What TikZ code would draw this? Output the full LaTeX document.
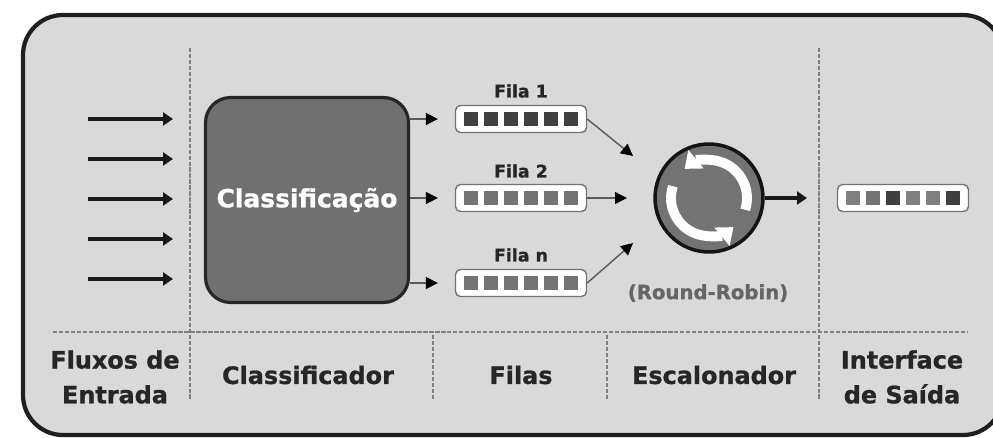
\documentclass[tikz,border=0pt]{standalone}
\usepackage{fontspec}
\setmainfont[BoldFeatures={FakeBold=1}]{DejaVu Sans}
\usetikzlibrary{arrows.meta}
\tikzset{x=0.02cm,y=0.02cm,
         painel/.style={draw=black!88,line width=2.4pt,fill=black!15,rounded corners=0.8cm},
         divisa/.style={draw=black!50,line width=0.8pt,dash pattern=on 2.4pt off 1pt},
         classe/.style={draw=black!85,line width=1.8pt,fill=black!56,rounded corners=0.5cm,
                        minimum width=4.06cm,minimum height=4.1cm,inner sep=0pt,text=white,
                        font=\bfseries\fontsize{14.2}{17}\selectfont},
         fila/.style={draw=black!55,line width=0.8pt,fill=white,rounded corners=0.1cm,
                      minimum width=2.62cm,minimum height=0.54cm,inner sep=0pt},
         celula/.style={minimum size=0.28cm,inner sep=0pt},
         escal/.style={circle,draw=black!92,line width=2pt,fill=black!55,
                       minimum size=2.16cm,inner sep=0pt},
         giro/.style={draw=white,line width=5.6pt,-{Triangle[length=0.3cm,width=0.46cm]}},
         seta/.style={draw=black!90,line width=2.5pt,-{Triangle[length=0.2cm,width=0.26cm]}},
         setafina/.style={draw=black!65,line width=0.8pt,-{Triangle[length=0.24cm,width=0.24cm,color=black,fill=black]}},
         rotulo/.style={align=center,text=black!85,font=\bfseries\fontsize{13.6}{19.8}\selectfont},
         nomefila/.style={text=black!85,font=\bfseries\fontsize{9.9}{12}\selectfont}}
\newcommand{\desenhafila}[4]{
  \node[fila] (#1) at (#2,#3) {};
  \foreach \cor [count=\i] in {#4}
    \node[celula,fill=\cor] (#1c\i) at ({#2-70+20*\i},#3) {};
}
\begin{document}
\begin{tikzpicture}
  \useasboundingbox[fill=white] (0,0) rectangle (993,437);
  \draw[painel] (23,2) rectangle (1003,422);

  \draw[divisa] (190,389) -- (190,37);
  \draw[divisa] (819,389) -- (819,37);
  \draw[divisa] (53,105) -- (968,105);
  \draw[divisa] (433,102) -- (433,37);
  \draw[divisa] (607,102) -- (607,37);

  \foreach \y [count=\n] in {318,278,238,198,158} {
    \coordinate (ini\n) at (88,\y);
    \coordinate (fim\n) at (173,\y);
    \draw[seta] (ini\n) -- (fim\n);
  }

  \node[classe] (class) at (307,237) {Classificação};

  \desenhafila{fila1}{521}{318}{black!75,black!75,black!75,black!75,black!75,black!75}
  \desenhafila{fila2}{521}{239}{black!55,black!55,black!55,black!55,black!55,black!55}
  \desenhafila{filan}{521}{154}{black!55,black!55,black!55,black!55,black!55,black!55}
  \desenhafila{saida}{903}{239}{black!50,black!55,black!75,black!50,black!50,black!75}

  \node[nomefila] (nome1) at (521,346) {Fila 1};
  \node[nomefila] (nome2) at (521,266) {Fila 2};
  \node[nomefila] (nomen) at (521,182) {Fila n};

  \draw[setafina,shorten >=0.34cm] (class.east |- fila1.west) -- (fila1.west);
  \draw[setafina,shorten >=0.34cm] (class.east |- fila2.west) -- (fila2.west);
  \draw[setafina,shorten >=0.34cm] (class.east |- filan.west) -- (filan.west);

  \node[escal] (esc) at (709,239) {};
  \draw[giro] ([shift={(-18:0.76cm)}]esc.center) arc[start angle=-18,end angle=130,radius=0.76cm];
  \draw[giro] ([shift={(162:0.76cm)}]esc.center) arc[start angle=162,end angle=310,radius=0.76cm];
  \node[text=black!60,font=\bfseries\fontsize{11.2}{13}\selectfont] (rr) at (708,144) {(Round-Robin)};

  \coordinate (ent1) at (633,281);
  \coordinate (ent2) at (627,239);
  \coordinate (entn) at (633,194);
  \coordinate (sai) at (807,239);
  \draw[setafina] (fila1.east) -- (ent1);
  \draw[setafina] (fila2.east) -- (ent2);
  \draw[setafina] (filan.east) -- (entn);
  \draw[seta] (esc.east) -- (sai);

  \node[rotulo] (fluxos) at (115,60) {Fluxos de\\Entrada};
  \node[rotulo] (classif) at (308,62) {Classificador};
  \node[rotulo] (filas) at (521,62) {Filas};
  \node[rotulo] (escalon) at (714,62) {Escalonador};
  \node[rotulo] (inter) at (902,60) {Interface\\de Saída};
\end{tikzpicture}
\end{document}
